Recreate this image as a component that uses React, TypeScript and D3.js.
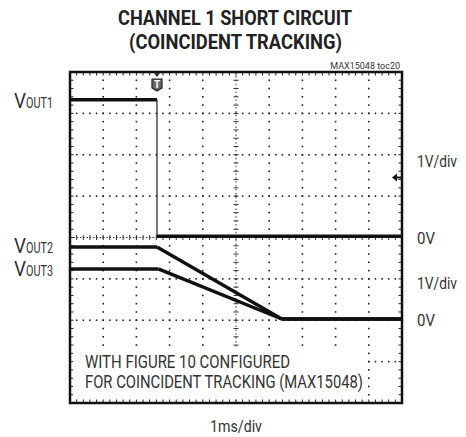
import React from 'react';
import * as d3 from 'd3';

// Data (time in ms, voltage in V, 1ms/div, 1V/div)
const vout1T = [0, 2.62, 2.62, 10];
const vout1V = [3.33, 3.33, 0.03, 0.03];
const vout2T = [0, 2.62, 6.38, 10];
const vout2V = [1.77, 1.77, 0.03, 0.03];
const vout3T = [0, 2.66, 6.38, 10];
const vout3V = [1.24, 1.24, 0.03, 0.03];
const ch1Offset = 0; // divisions from center
const ch23Offset = -2;
const triggerT = 2.62;
const triggerLevelDiv = 1.45;

const titleLines = ['CHANNEL 1 SHORT CIRCUIT', '(COINCIDENT TRACKING)'];
const noteLines = ['WITH FIGURE 10 CONFIGURED', 'FOR COINCIDENT TRACKING (MAX15048)'];
const rightLabels = [
  { text: '1V/div', div: 1.85 },
  { text: '0V', div: 0 },
  { text: '1V/div', div: -1.1 },
  { text: '0V', div: -2 },
];
const leftLabels = [
  { sub: 'OUT1', div: 3.3 },
  { sub: 'OUT2', div: -0.2 },
  { sub: 'OUT3', div: -0.75 },
];

const L = 70, R = 402, T = 72, B = 403;
const x = d3.scaleLinear().domain([0, 10]).range([L, R]);
const y = d3.scaleLinear().domain([-4, 4]).range([B, T]);

const FONT = 'Roboto, "Liberation Sans", sans-serif';

function tracePaths(ts: number[], vs: number[], off: number) {
  const thick: string[] = [];
  const thin: string[] = [];
  for (let i = 0; i < ts.length - 1; i++) {
    const seg = d3.line()([
      [x(ts[i]), y(vs[i] + off)],
      [x(ts[i + 1]), y(vs[i + 1] + off)],
    ]) as string;
    if (ts[i] === ts[i + 1]) thin.push(seg);
    else thick.push(seg);
  }
  return { thick, thin };
}

export default function App() {
  const dots: JSX.Element[] = [];
  for (let j = -3; j <= 3; j++) {
    if (j === 0) continue;
    for (let i = 1; i < 50; i++) {
      dots.push(<rect key={`h${j}_${i}`} x={x(i / 5) - 0.8} y={y(j) - 0.8} width={1.6} height={1.6} fill="#222" />);
    }
  }
  for (let i = 1; i <= 9; i++) {
    if (i === 5) continue;
    for (let j = 1; j < 40; j++) {
      dots.push(<rect key={`v${i}_${j}`} x={x(i) - 0.8} y={y(-4 + j / 5) - 0.8} width={1.6} height={1.6} fill="#222" />);
    }
  }
  const ticks: JSX.Element[] = [];
  for (let i = 1; i < 50; i++) {
    const xx = x(i / 5);
    ticks.push(<line key={`ch${i}`} x1={xx} x2={xx} y1={y(0) - 2.5} y2={y(0) + 2.5} stroke="#333" strokeWidth={1} />);
    ticks.push(<line key={`bt${i}`} x1={xx} x2={xx} y1={B} y2={B - 3.5} stroke="#222" strokeWidth={1} />);
    ticks.push(<line key={`tt${i}`} x1={xx} x2={xx} y1={T} y2={T + 3.5} stroke="#222" strokeWidth={1} />);
  }
  for (let j = 1; j < 40; j++) {
    const yy = y(-4 + j / 5);
    ticks.push(<line key={`cv${j}`} x1={x(5) - 2.5} x2={x(5) + 2.5} y1={yy} y2={yy} stroke="#333" strokeWidth={1} />);
    ticks.push(<line key={`lt${j}`} x1={L} x2={L + 3.5} y1={yy} y2={yy} stroke="#222" strokeWidth={1} />);
    ticks.push(<line key={`rt${j}`} x1={R} x2={R - 3.5} y1={yy} y2={yy} stroke="#222" strokeWidth={1} />);
  }
  const axesLines = (
    <g>
      <line x1={L} x2={R} y1={y(0)} y2={y(0)} stroke="#333" strokeWidth={1} strokeDasharray="1.5,1.8" />
      <line x1={x(5)} x2={x(5)} y1={T} y2={B} stroke="#333" strokeWidth={1} strokeDasharray="1.5,2.4" />
    </g>
  );

  const tr1 = tracePaths(vout1T, vout1V, ch1Offset);
  const tr2 = tracePaths(vout2T, vout2V, ch23Offset);
  const tr3 = tracePaths(vout3T, vout3V, ch23Offset);
  const allTraces = [tr1, tr2, tr3];

  const tx = x(triggerT);
  const ay = y(triggerLevelDiv);

  return (
    <svg width={466} height={437} style={{ display: 'block', position: 'absolute', left: 0, top: 0 }}>
      <rect width={466} height={437} fill="#fff" />
      <text x={118} y={24.5} fontFamily={FONT} fontWeight="bold" fontSize={21} textLength={234} lengthAdjust="spacingAndGlyphs" fill="#222">{titleLines[0]}</text>
      <text x={129} y={49} fontFamily={FONT} fontWeight="bold" fontSize={21} textLength={213} lengthAdjust="spacingAndGlyphs" fill="#222">{titleLines[1]}</text>
      <text x={400} y={69} fontFamily={FONT} fontSize={9} textAnchor="end" fill="#333">MAX15048 toc20</text>

      {dots}
      {axesLines}
      {ticks}

      <rect x={73} y={349} width={293} height={49.5} fill="#fff" />
      <text x={85} y={368} fontFamily={FONT} fontSize={18} textLength={205} lengthAdjust="spacingAndGlyphs" fill="#333">{noteLines[0]}</text>
      <text x={85} y={388} fontFamily={FONT} fontSize={18} textLength={278} lengthAdjust="spacingAndGlyphs" fill="#333">{noteLines[1]}</text>

      {allTraces.map((tr, k) => (
        <g key={k}>
          {tr.thick.map((d, i) => <path key={`k${i}`} d={d} stroke="#111" strokeWidth={3.4} fill="none" strokeLinecap="butt" />)}
          {tr.thin.map((d, i) => <path key={`n${i}`} d={d} stroke="#222" strokeWidth={1.2} fill="none" />)}
        </g>
      ))}

      <rect x={L} y={T} width={R - L} height={B - T} fill="none" stroke="#111" strokeWidth={2.5} />

      <path d={`M${tx - 3},${T + 1} L${tx + 3},${T + 1} L${tx},${T + 5} Z`} fill="#333" />
      <path d={`M${tx - 5},${T + 7} L${tx + 5},${T + 7} L${tx + 5},${T + 16} L${tx},${T + 19} L${tx - 5},${T + 16} Z`} fill="#666" stroke="#222" strokeWidth={1.2} />
      <text x={tx} y={T + 15.5} fontFamily={FONT} fontWeight="bold" fontSize={10} textAnchor="middle" fill="#fff">T</text>

      <path d={`M${R - 10},${ay} L${R - 5},${ay - 4} L${R - 5},${ay + 4} Z`} fill="#111" />
      <line x1={R - 6} x2={R} y1={ay} y2={ay} stroke="#111" strokeWidth={2} />

      {leftLabels.map((lb, i) => (
        <g key={i}>
          <text x={14} y={y(lb.div) + 7.5} fontFamily={FONT} fontSize={20} textLength={12} lengthAdjust="spacingAndGlyphs" fill="#333">V</text>
          <text x={26} y={y(lb.div) + 7.5} fontFamily={FONT} fontSize={15} textLength={27} lengthAdjust="spacingAndGlyphs" fill="#333">{lb.sub}</text>
        </g>
      ))}

      {rightLabels.map((lb, i) => (
        <text key={i} x={417} y={y(lb.div) + 6} fontFamily={FONT} fontSize={17} textLength={lb.text.length > 2 ? 40 : 18} lengthAdjust="spacingAndGlyphs" fill="#333">{lb.text}</text>
      ))}

      <text x={236} y={432} fontFamily={FONT} fontSize={17} textAnchor="middle" textLength={52} lengthAdjust="spacingAndGlyphs" fill="#333">1ms/div</text>
    </svg>
  );
}
